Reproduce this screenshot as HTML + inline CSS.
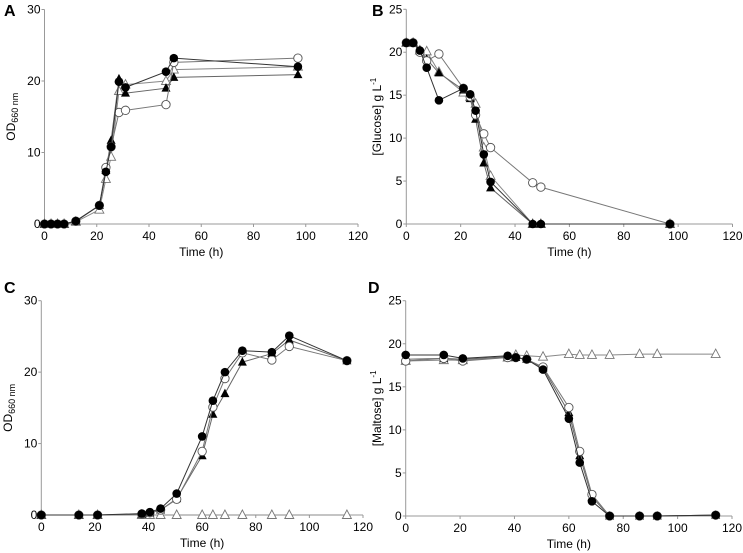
<!DOCTYPE html>
<html><head><meta charset="utf-8"><style>
html,body{margin:0;padding:0;background:#fff}
svg{display:block;font-family:"Liberation Sans",Arial,sans-serif}
</style></head><body>
<svg id="chart" width="743" height="553" viewBox="0 0 743 553" xmlns="http://www.w3.org/2000/svg"></svg>
<script>
// Panel A data (OD660, glucose)
const timesA = [0,2.5,5,7.5,12,21,23.5,25.5,28.5,31,46.5,49.5,97];
const aFilledCircle = [0,0,0,0,0.4,2.6,7.3,10.8,19.9,19.1,21.3,23.2,22.0];
const aOpenCircle   = [0,0,0,0,0.4,2.6,7.9,10.8,15.6,15.9,16.7,22.6,23.2];
const aFilledTri    = [0,0,0,0,0.4,2.6,7.5,11.7,20.3,18.3,19.0,20.5,20.9];
const aOpenTri      = [0,0,0,0,0.3,2.0,6.3,9.4,18.6,19.5,20.0,21.6,22.0];
// Panel B data (glucose g/L)
const timesB = [0,2.5,5,7.5,12,21,23.5,25.5,28.5,31,46.5,49.5,97];
const bFilledCircle = [21.1,21.1,20.2,18.2,14.4,15.8,15.1,13.2,8.1,4.9,0,0,0];
const bOpenCircle   = [21.1,21.1,20.0,19.0,19.8,15.8,14.8,12.7,10.5,8.9,4.8,4.3,0];
const bFilledTri    = [21.1,21.1,20.2,19.2,17.6,15.6,14.6,12.2,7.1,4.2,0,0,0];
const bOpenTri      = [21.1,21.1,20.2,20.1,17.7,15.3,14.8,14.0,8.9,5.6,0,0,0];
// Panel C data (OD660, maltose)
const timesC = [0,14,21,37.5,40.5,44.5,50.5,60,64,68.5,75,86,92.5,114];
const cFilledCircle = [0,0,0,0.2,0.4,0.9,3.0,11.0,16.0,20.0,23.0,22.8,25.1,21.6];
const cOpenCircle   = [0,0,0,0.1,0.3,0.7,2.2,8.9,15.1,19.1,22.7,21.7,23.6,21.6];
const cFilledTri    = [0,0,0,0.1,0.3,0.7,2.3,8.3,14.1,17.0,21.4,22.6,24.5,21.6];
const cOpenTri      = [0,0,0,0,0,0,0,0,0,0,0,0,0,0];
// Panel D data (maltose g/L)
const timesD = [0,14,21,37.5,40.5,44.5,50.5,60,64,68.5,75,86,92.5,114];
const dFilledCircle = [18.7,18.7,18.3,18.6,18.4,18.2,17.0,11.3,6.2,1.7,0,0,0,0.1];
const dOpenCircle   = [18.0,18.3,18.0,18.4,18.4,18.2,17.3,12.6,7.5,2.5,0,0,0,0.1];
const dFilledTri    = [18.2,18.3,18.2,18.5,18.4,18.2,17.2,12.0,7.0,2.2,0,0,0,0.1];
const dOpenTri      = [18.0,18.1,18.1,18.4,18.7,18.6,18.5,18.8,18.7,18.7,18.7,18.8,18.8,18.8];
const xTicks = [0,20,40,60,80,100,120];
const odTicks = [0,10,20,30];
const sugarTicks = [0,5,10,15,20,25];

const svg = document.getElementById('chart');
const NS = 'http://www.w3.org/2000/svg';
function mk(tag, attrs, parent){const e=document.createElementNS(NS,tag);for(const k in attrs)e.setAttribute(k,attrs[k]);(parent||svg).appendChild(e);return e;}

function panel(p){
  const g = mk('g',{});
  
  
  const sx = v => p.x0 + (v/120)*(p.x1-p.x0);
  const sy = v => p.y0 - (v/p.ymax)*(p.y0-p.y1);
  const ax = mk('g',{stroke:'#999','stroke-width':1},g);
  
  
  mk('line',{x1:p.x0,y1:p.y0,x2:p.x1,y2:p.y0},ax);
  mk('line',{x1:p.x0,y1:p.y0,x2:p.x0,y2:p.y1},ax);
  xTicks.forEach(t=>{
    mk('line',{x1:sx(t),y1:p.y0,x2:sx(t),y2:p.y0+3},ax);
    const tx=mk('text',{x:sx(t),y:p.y0+16,'text-anchor':'middle','font-size':12,fill:'#000',stroke:'none'},g);
    tx.textContent=t;
    
    
  });
  p.yticks.forEach(t=>{
    mk('line',{x1:p.x0-3,y1:sy(t),x2:p.x0,y2:sy(t)},ax);
    const tx=mk('text',{x:p.x0-4,y:sy(t)+4,'text-anchor':'end','font-size':12,fill:'#000'},g);
    tx.textContent=t;
    
    
  });
  const xt=mk('text',{x:(p.x0+p.x1)/2,y:p.y0+32,'text-anchor':'middle','font-size':12,fill:'#000'},g);
  xt.textContent='Time (h)';
  
  
  const cy=(p.y0+p.y1)/2;
  const yt=mk('text',{x:p.yx,y:cy,'text-anchor':'middle','font-size':12,fill:'#000',transform:`rotate(-90 ${p.yx} ${cy})`},g);
  yt.innerHTML=p.ytitle;
  
  
  const lt=mk('text',{x:p.lx,y:p.ly,'font-size':16,'font-weight':'bold',fill:'#000'},g);
  lt.textContent=p.id;
  
  
  // series: draw in order open tri, filled tri, open circle, filled circle
  const series=[
    {v:p.s[3],kind:'otri',line:'#888',name:'open-triangle-series'},
    {v:p.s[2],kind:'ftri',line:'#666',name:'filled-triangle-series'},
    {v:p.s[1],kind:'ocir',line:'#777',name:'open-circle-series'},
    {v:p.s[0],kind:'fcir',line:'#333',name:'filled-circle-series'}];
  series.forEach(s=>{
    const sg=mk('g',{},g);
    
    
    const pts=p.t.map((t,i)=>sx(t).toFixed(1)+','+sy(s.v[i]).toFixed(1)).join(' ');
    mk('polyline',{points:pts,fill:'none',stroke:s.line,'stroke-width':1},sg);
    p.t.forEach((t,i)=>{
      const x=sx(t),y=sy(s.v[i]);let m;
      if(s.kind==='fcir') m=mk('circle',{cx:x,cy:y,r:4.3,fill:'#000'},sg);
      else if(s.kind==='ocir') m=mk('circle',{cx:x,cy:y,r:4.2,fill:'#fff',stroke:'#555','stroke-width':0.9},sg);
      else if(s.kind==='ftri') m=mk('polygon',{points:`${x},${y-5} ${x-4.5},${y+3.5} ${x+4.5},${y+3.5}`,fill:'#000'},sg);
      else m=mk('polygon',{points:`${x},${y-5} ${x-4.5},${y+3.5} ${x+4.5},${y+3.5}`,fill:'#fff',stroke:'#777','stroke-width':0.9},sg);
      
      
    });
  });
}
const OD='OD<tspan font-size="9" dy="3">660 nm</tspan>';
panel({id:'A',x0:44.5,x1:358,y0:224,y1:9.5,ymax:30,yticks:odTicks,t:timesA,s:[aFilledCircle,aOpenCircle,aFilledTri,aOpenTri],ytitle:OD,yx:15,lx:4,ly:16});
panel({id:'B',x0:406.3,x1:732.5,y0:224,y1:9.3,ymax:25,yticks:sugarTicks,t:timesB,s:[bFilledCircle,bOpenCircle,bFilledTri,bOpenTri],ytitle:'[Glucose] g L<tspan font-size="8" dy="-5">-1</tspan>',yx:381,lx:372,ly:16});
panel({id:'C',x0:41.3,x1:363,y0:515,y1:300.7,ymax:30,yticks:odTicks,t:timesC,s:[cFilledCircle,cOpenCircle,cFilledTri,cOpenTri],ytitle:OD,yx:12,lx:4,ly:293});
panel({id:'D',x0:405.7,x1:732,y0:516,y1:300.7,ymax:25,yticks:sugarTicks,t:timesD,s:[dFilledCircle,dOpenCircle,dFilledTri,dOpenTri],ytitle:'[Maltose] g L<tspan font-size="8" dy="-5">-1</tspan>',yx:381,lx:368,ly:293});
</script>
</body></html>
